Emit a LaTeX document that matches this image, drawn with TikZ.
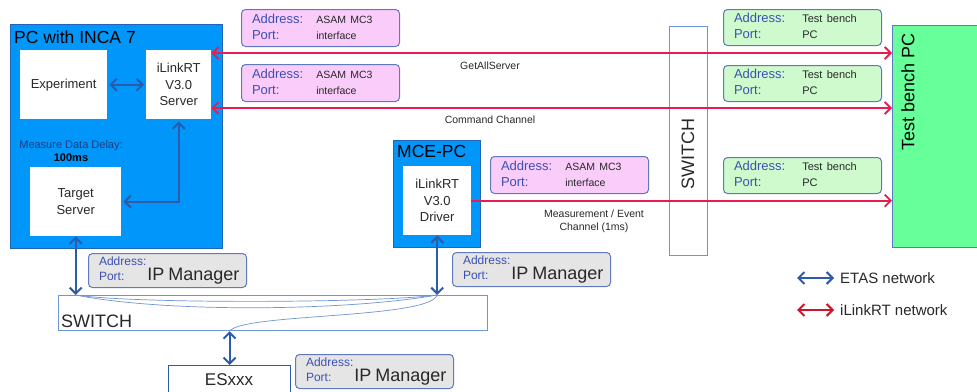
\documentclass[tikz,border=0pt]{standalone}
\usepackage{fontspec}
\setmainfont{Liberation Sans}
\usetikzlibrary{arrows.meta,positioning}

\definecolor{pcblue}{RGB}{0,150,250}
\definecolor{pcedge}{RGB}{35,100,185}
\definecolor{netblue}{RGB}{45,90,170}
\definecolor{linkred}{RGB}{232,28,80}
\definecolor{lgred}{RGB}{205,20,40}
\definecolor{pinkfill}{RGB}{250,204,250}
\definecolor{greenfill}{RGB}{206,250,206}
\definecolor{grayfill}{RGB}{229,229,229}
\definecolor{tbgreen}{RGB}{102,255,153}
\definecolor{adredge}{RGB}{95,120,190}
\definecolor{swedge}{RGB}{110,150,210}
\definecolor{adrblue}{RGB}{60,80,180}
\definecolor{delayblue}{RGB}{30,60,130}
\definecolor{txtgray}{RGB}{40,40,40}

\newcommand{\sm}{\fontsize{10.5}{12}\selectfont}
\newcommand{\smg}{\fontsize{11}{12}\selectfont}
\newcommand{\adrport}[3]{\begin{tabular}{@{}l@{\hspace{#1}}l@{}}\textcolor{adrblue}{Address:} & #2\\\textcolor{adrblue}{Port:} & #3\end{tabular}}
\newcommand{\ipman}{\begin{tabular}{@{}l@{\hspace{1pt}}l@{}}\textcolor{adrblue}{Address:} & \\[-2pt]\textcolor{adrblue}{Port:} & {\fontsize{18}{20}\selectfont IP Manager}\end{tabular}}

\tikzset{
  pcbox/.style={draw=pcedge, fill=pcblue, line width=1pt, anchor=north west, inner sep=0pt},
  wbox/.style={fill=white, anchor=north west, inner sep=0pt, align=center, text=txtgray, font=\fontsize{13}{16.5}\selectfont},
  swbox/.style={draw=swedge, fill=white, line width=1.2pt, anchor=north west, inner sep=0pt},
  ttl/.style={anchor=base west, inner sep=0pt, font=\fontsize{17.5}{20}\selectfont, text=black},
  big/.style={inner sep=0pt, text=txtgray, font=\fontsize{18}{21}\selectfont},
  adrbox/.style={draw=adredge, line width=1pt, rounded corners=4pt, anchor=north west, inner xsep=10.5pt, inner ysep=0pt, text width=137pt, align=left, text=txtgray, font=\fontsize{13}{16}\selectfont},
  ipbox/.style={adrbox, fill=grayfill, minimum height=34pt, font=\fontsize{12}{13}\selectfont},
  chan/.style={inner sep=0pt, align=center, text=txtgray, font=\fontsize{10.5}{13}\selectfont},
  etas/.style={draw=netblue, line width=2pt, {Straight Barb[length=6pt,width=12pt]}-{Straight Barb[length=6pt,width=12pt]}},
  ilink/.style={draw=linkred, line width=1.8pt},
  wire/.style={draw=swedge, line width=0.7pt},
  legend/.style={anchor=west, inner sep=0pt, text=txtgray, font=\fontsize{15}{18}\selectfont}
}

\begin{document}
\begin{tikzpicture}[x=1pt,y=1pt,yscale=-1]
\useasboundingbox (0,0) rectangle (977,391);

% PC with INCA 7
\node[pcbox, minimum width=212, minimum height=224] (inca) at (10,24) {};
\node[ttl] (incaT) at (14,43) {PC with INCA 7};
\node[wbox, minimum width=87, minimum height=69] (exp) at (20,50) {Experiment};
\node[wbox, minimum width=65, minimum height=69] (srv) at (146,50) {iLinkRT\\V3.0\\Server};
\node[inner sep=0pt, align=center, text=delayblue, font=\fontsize{11}{13}\selectfont] (delay) at (71,151) {Measure Data Delay:\\\textcolor{black}{\bfseries 100ms}};
\node[wbox, minimum width=91, minimum height=69] (tgt) at (30,167) {Target\\Server};

% MCE-PC
\node[pcbox, minimum width=87, minimum height=107] (mce) at (393,140) {};
\node[ttl] (mceT) at (397,157) {MCE-PC};
\node[wbox, minimum width=68, minimum height=69] (drv) at (403,166) {iLinkRT\\V3.0\\Driver};

% switches, test bench, ESxxx
\node[swbox, minimum width=38, minimum height=229] (vsw) at (669,26) {};
\node[big, rotate=90] (vswT) at (688,154) {SWITCH};
\node[draw=adredge, fill=tbgreen, line width=1pt, anchor=north west, inner sep=0pt, minimum width=100, minimum height=222] (tb) at (892,25) {};
\node[big, rotate=90, anchor=east, text=black] (tbT) at (908,33) {Test bench PC};
\node[swbox, minimum width=429, minimum height=35] (hsw) at (58,295) {};
\node[big, anchor=base west] (hswT) at (61,327) {SWITCH};
\node[draw=netblue, fill=white, line width=1.2pt, anchor=north west, inner sep=0pt, minimum width=122, minimum height=40] (esx) at (168,365) {};
\node[big, anchor=base, font=\fontsize{17}{20}\selectfont] (esxT) at (229,385) {ESxxx};

% address labels
\node[adrbox, fill=pinkfill, minimum height=37] (adrA) at (241,9) {\adrport{13pt}{\sm ASAM MC3}{\sm interface}};
\node[adrbox, fill=pinkfill, minimum height=37] (adrB) at (241,64) {\adrport{13pt}{\sm ASAM MC3}{\sm interface}};
\node[adrbox, fill=pinkfill, minimum height=37] (adrC) at (490,156) {\adrport{13pt}{\sm ASAM MC3}{\sm interface}};
\node[adrbox, fill=greenfill, minimum height=36] (tbA) at (723,9) {\adrport{17pt}{\smg Test bench}{\smg PC}};
\node[adrbox, fill=greenfill, minimum height=36] (tbB) at (723,65) {\adrport{17pt}{\smg Test bench}{\smg PC}};
\node[adrbox, fill=greenfill, minimum height=36] (tbC) at (723,157) {\adrport{17pt}{\smg Test bench}{\smg PC}};
\node[ipbox] (ipA) at (88,253) {\ipman};
\node[ipbox] (ipB) at (452,252) {\ipman};
\node[ipbox] (ipC) at (295,354) {\ipman};

% iLinkRT channels
\draw[ilink, {Straight Barb[length=6pt,width=12pt]}-{Straight Barb[length=6pt,width=12pt]}] (srv.east |- 0,53) -- (tb.west |- 0,53);
\draw[ilink, {Straight Barb[length=6pt,width=12pt]}-{Straight Barb[length=6pt,width=12pt]}] (srv.east |- 0,108) -- (tb.west |- 0,108);
\draw[ilink, -{Straight Barb[length=6pt,width=12pt]}] (drv.east) -- (drv.east -| tb.west);
\node[chan] (getT) at (490,66) {GetAllServer};
\node[chan] (cmdT) at (490,120) {Command Channel};
\node[chan] (measT) at (594,221) {Measurement / Event\\Channel (1ms)};

% ETAS network
\draw[etas, shorten <=2pt, shorten >=2pt] (exp.east) -- (srv.west);
\draw[etas, shorten <=2pt, shorten >=2pt] (tgt.east) -| (srv.south);
\draw[etas] (tgt.south) -- (tgt.south |- hsw.north);
\draw[etas] (drv.south) -- (drv.south |- hsw.north);
\draw[etas] (esx.north) -- (esx.north |- hsw.south);
\coordinate (pL) at (tgt.south |- hsw.north);
\coordinate (pR) at (drv.south |- hsw.north);
\coordinate (pE) at (esx.north |- hsw.south);
\draw[wire] (pL) .. controls +(60,9) and +(-60,8) .. (pR);
\draw[wire] (pL) .. controls +(90,18) and +(-90,16) .. (pR);
\draw[wire] (pR) .. controls +(-8,24) and +(12,-18) .. (pE);

% legend
\coordinate (lgA) at (797,278);
\coordinate (lgB) at (834,278);
\coordinate (lgC) at (797,310);
\coordinate (lgD) at (834,310);
\draw[etas] (lgA) -- (lgB);
\draw[etas, draw=lgred] (lgC) -- (lgD);
\node[legend] (lgAT) at (840,278) {ETAS network};
\node[legend] (lgCT) at (840,310) {iLinkRT network};

\end{tikzpicture}
\end{document}
